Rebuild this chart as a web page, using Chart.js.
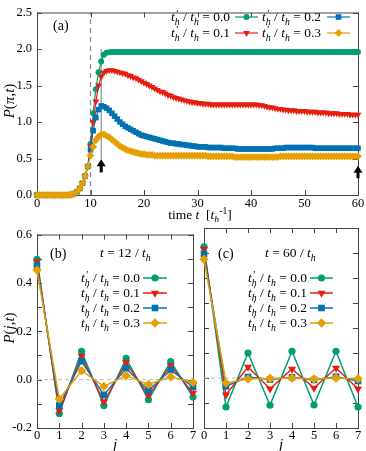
<!DOCTYPE html>
<html>
<head>
<meta charset="utf-8">
<script src="https://cdn.jsdelivr.net/npm/chart.js@4.4.1/dist/chart.umd.min.js"></script>
<style>
  body { margin: 0; background: #fff; }
  #wrap { position: relative; width: 366px; height: 451px; overflow: hidden; }
  canvas { position: absolute; }
</style>
</head>
<body>
<div id="wrap">
  <canvas id="panelA" width="366" height="222" style="left:0;top:0"></canvas>
  <canvas id="panelB" width="197" height="229" style="left:0;top:222px"></canvas>
  <canvas id="panelC" width="169" height="229" style="left:197px;top:222px"></canvas>
</div>
<script>
// panel (a): P(pi, t) against time, one series per t'_h / t_h
const timeT = [0,0.5,1,1.5,2,2.5,3,3.5,4,4.5,
  5,5.5,6,6.5,7,7.5,8,8.5,9,9.5,
  10,10.5,11,11.5,12,12.5,13,13.5,14,14.5,
  15,15.5,16,16.5,17,17.5,18,18.5,19,19.5,
  20,20.5,21,21.5,22,22.5,23,23.5,24,24.5,
  25,25.5,26,26.5,27,27.5,28,28.5,29,29.5,
  30,30.5,31,31.5,32,32.5,33,33.5,34,34.5,
  35,35.5,36,36.5,37,37.5,38,38.5,39,39.5,
  40,40.5,41,41.5,42,42.5,43,43.5,44,44.5,
  45,45.5,46,46.5,47,47.5,48,48.5,49,49.5,
  50,50.5,51,51.5,52,52.5,53,53.5,54,54.5,
  55,55.5,56,56.5,57,57.5,58,58.5,59,59.5,
  60];

const piGreen = [0,0,0,0,0,0,0,0,0,0,
  0,0,0.002,0.008,0.02,0.045,0.09,0.16,0.26,0.39,
  0.7,1.12,1.45,1.68,1.83,1.92,1.95,1.955,1.96,1.96,
  1.96,1.96,1.96,1.96,1.96,1.96,1.96,1.96,1.96,1.96,
  1.96,1.96,1.96,1.96,1.96,1.96,1.96,1.96,1.96,1.96,
  1.96,1.96,1.96,1.96,1.96,1.96,1.96,1.96,1.96,1.96,
  1.96,1.96,1.96,1.96,1.96,1.96,1.96,1.96,1.96,1.96,
  1.96,1.96,1.96,1.96,1.96,1.96,1.96,1.96,1.96,1.96,
  1.96,1.96,1.96,1.96,1.96,1.96,1.96,1.96,1.96,1.96,
  1.96,1.96,1.96,1.96,1.96,1.96,1.96,1.96,1.96,1.96,
  1.96,1.96,1.96,1.96,1.96,1.96,1.96,1.96,1.96,1.96,
  1.96,1.96,1.96,1.96,1.96,1.96,1.96,1.96,1.96,1.96,
  1.96];

const piRed = [0,0,0,0,0,0,0,0,0,0,
  0,0,0.002,0.008,0.02,0.045,0.09,0.16,0.26,0.39,
  0.66,1.0,1.28,1.5,1.62,1.68,1.70,1.71,1.71,1.70,
  1.69,1.68,1.67,1.66,1.64,1.63,1.61,1.60,1.58,1.56,
  1.54,1.52,1.50,1.48,1.46,1.44,1.42,1.41,1.39,1.37,
  1.36,1.34,1.33,1.32,1.31,1.30,1.29,1.28,1.27,1.27,
  1.26,1.26,1.25,1.25,1.25,1.24,1.24,1.24,1.24,1.24,
  1.24,1.24,1.24,1.24,1.24,1.24,1.24,1.24,1.24,1.24,
  1.24,1.24,1.24,1.23,1.23,1.22,1.21,1.20,1.20,1.19,
  1.18,1.18,1.17,1.17,1.16,1.16,1.16,1.15,1.15,1.15,
  1.15,1.14,1.14,1.14,1.14,1.13,1.13,1.13,1.13,1.12,
  1.12,1.12,1.12,1.11,1.11,1.11,1.11,1.10,1.10,1.10,
  1.10];

const piBlue = [0,0,0,0,0,0,0,0,0,0,
  0,0,0.002,0.008,0.02,0.045,0.09,0.16,0.26,0.39,
  0.62,0.88,1.06,1.17,1.22,1.21,1.19,1.16,1.12,1.08,
  1.04,1.00,0.97,0.94,0.92,0.90,0.88,0.86,0.84,0.82,
  0.81,0.80,0.79,0.78,0.77,0.76,0.75,0.74,0.73,0.72,
  0.71,0.71,0.70,0.70,0.69,0.69,0.68,0.68,0.67,0.67,
  0.66,0.66,0.66,0.66,0.65,0.65,0.65,0.65,0.65,0.65,
  0.64,0.64,0.64,0.64,0.64,0.63,0.63,0.63,0.63,0.63,
  0.63,0.63,0.63,0.63,0.63,0.63,0.63,0.63,0.63,0.64,
  0.64,0.64,0.64,0.65,0.65,0.65,0.65,0.65,0.65,0.65,
  0.65,0.65,0.65,0.65,0.64,0.64,0.64,0.64,0.64,0.64,
  0.64,0.64,0.64,0.64,0.64,0.64,0.64,0.64,0.64,0.64,
  0.64];

const piOrange = [0,0,0,0,0,0,0,0,0,0,
  0,0,0.002,0.008,0.02,0.045,0.09,0.16,0.26,0.39,
  0.54,0.66,0.75,0.80,0.83,0.83,0.81,0.79,0.76,0.73,
  0.70,0.67,0.65,0.63,0.61,0.60,0.59,0.58,0.57,0.56,
  0.56,0.55,0.55,0.55,0.54,0.54,0.54,0.54,0.54,0.54,
  0.54,0.54,0.54,0.54,0.54,0.54,0.54,0.54,0.54,0.54,
  0.54,0.54,0.54,0.54,0.53,0.53,0.53,0.53,0.53,0.53,
  0.53,0.53,0.53,0.53,0.52,0.52,0.52,0.52,0.52,0.52,
  0.52,0.52,0.52,0.52,0.52,0.52,0.52,0.52,0.52,0.52,
  0.52,0.53,0.53,0.53,0.53,0.53,0.53,0.53,0.53,0.53,
  0.53,0.53,0.53,0.53,0.53,0.53,0.53,0.53,0.53,0.53,
  0.53,0.53,0.53,0.53,0.53,0.53,0.53,0.53,0.53,0.53,
  0.53];

// panels (b) and (c): P(j, t) against site j
const sites = [0, 1, 2, 3, 4, 5, 6, 7];
const t12Green = [0.497, -0.14, 0.117, -0.107, 0.088, -0.083, 0.075, -0.072];
const t12Red = [0.488, -0.128, 0.097, -0.092, 0.07, -0.065, 0.058, -0.056];
const t12Blue = [0.472, -0.107, 0.076, -0.063, 0.047, -0.045, 0.04, -0.03];
const t12Orange = [0.453, -0.08, 0.037, -0.028, 0.017, -0.02, 0.012, -0.012];
const t60Green = [0.525, -0.116, 0.1, -0.109, 0.107, -0.108, 0.107, -0.116];
const t60Red = [0.515, -0.067, 0.044, -0.043, 0.036, -0.04, 0.04, -0.043];
const t60Blue = [0.497, -0.033, 0.004, -0.006, 0.003, -0.008, 0.005, -0.012];
const t60Orange = [0.475, -0.02, -0.004, -0.002, 0.0, -0.004, 0.0, -0.003];

const ratios = ['0.0', '0.1', '0.2', '0.3'];
const colors = ['#009e73', '#e51e10', '#0072b2', '#e69f00'];
const styles = ['circle', 'triangle', 'rect', 'rectRot'];

// marks in panel (a): dashed line at t = 10, thin line at t = 12, arrows
const dashT = 10;
const guideT = 12, guideFrom = 0.49, guideTo = 2.0;
const arrowT = [12, 60];
const arrowFrom = [0.31, 0.23];
const arrowTo = [0.49, 0.40];

Chart.defaults.font.family = '"Liberation Serif", "Times New Roman", serif';
Chart.defaults.color = '#000';

const FONT = '"Liberation Serif", serif';

function pointSize(k, small) {
  const r = small ? 3.0 : 3.6;
  return k === 0 ? r : r * 1.3;
}

function makeSets(xs, series, small) {
  return series.map((ys, k) => ({
    data: xs.map((x, i) => ({ x: x, y: ys[i] })),
    borderColor: colors[k],
    backgroundColor: colors[k],
    borderWidth: small ? 1.2 : 1.5,
    pointStyle: styles[k],
    pointRotation: k === 1 ? 180 : 0,
    pointRadius: pointSize(k, small),
    pointBorderWidth: 0,
    pointHoverRadius: 0,
    clip: false,
    order: 3 - k
  }));
}

function axis(min, max, step, size, fmt, show, pad) {
  return {
    type: 'linear', min: min, max: max,
    ticks: { stepSize: step, display: show, font: { size: 12.5 }, padding: pad,
      callback: fmt, autoSkip: false, maxRotation: 0 },
    grid: { display: false, drawTicks: false },
    border: { display: false },
    afterFit: s => { if (s.isHorizontal()) s.height = size; else s.width = size; }
  };
}

// text with italic, subscript and superscript pieces
function richText(ctx, parts, x, y, size, align) {
  const setFont = p => {
    const sz = (p.sub || p.sup) ? size * 0.72 : size;
    ctx.font = (p.it ? 'italic ' : '') + sz + 'px ' + FONT;
  };
  const widths = parts.map(p => { setFont(p); return ctx.measureText(p.s).width; });
  const total = widths.reduce((a, b) => a + b, 0);
  let cx = align === 'right' ? x - total : align === 'center' ? x - total / 2 : x;
  ctx.textAlign = 'left';
  ctx.textBaseline = 'alphabetic';
  ctx.fillStyle = '#000';
  const base = y + size * 0.33;
  parts.forEach((p, i) => {
    setFont(p);
    const dy = p.sub ? size * 0.28 : p.sup ? -size * 0.4 : 0;
    ctx.fillText(p.s, cx, base + dy);
    if (p.prime) {
      ctx.font = 'italic ' + (size * 0.8) + 'px ' + FONT;
      ctx.fillText("'", cx + 0.8, base - size * 0.3);
    }
    cx += widths[i];
  });
}

function ratioParts(v) {
  return [{ s: 't', it: true }, { s: 'h', it: true, sub: true, prime: true },
    { s: ' / ' }, { s: 't', it: true }, { s: 'h', it: true, sub: true }, { s: ' = ' + v }];
}

function legendEntry(ctx, k, textRight, lineL, lineR, y, size, small) {
  richText(ctx, ratioParts(ratios[k]), textRight, y, size, 'right');
  ctx.save();
  ctx.strokeStyle = colors[k];
  ctx.lineWidth = small ? 1.2 : 1.5;
  ctx.beginPath();
  ctx.moveTo(lineL, y);
  ctx.lineTo(lineR, y);
  ctx.stroke();
  ctx.fillStyle = colors[k];
  Chart.helpers.drawPoint(ctx, { pointStyle: styles[k], rotation: k === 1 ? 180 : 0,
    radius: pointSize(k, small), borderWidth: 0 }, (lineL + lineR) / 2, y);
  ctx.restore();
}

// box round the plot with inward ticks on all four sides
const framePlugin = {
  id: 'frame',
  beforeDatasetsDraw(chart) {
    const { ctx, chartArea: a, scales } = chart;
    ctx.save();
    ctx.strokeStyle = '#444';
    ctx.lineWidth = 1;
    ctx.strokeRect(a.left + 0.5, a.top + 0.5, a.right - a.left, a.bottom - a.top);
    ctx.beginPath();
    scales.x.ticks.forEach(t => {
      const px = Math.round(scales.x.getPixelForValue(t.value)) + 0.5;
      ctx.moveTo(px, a.bottom); ctx.lineTo(px, a.bottom - 5);
      ctx.moveTo(px, a.top); ctx.lineTo(px, a.top + 5);
    });
    scales.y.ticks.forEach(t => {
      const py = Math.round(scales.y.getPixelForValue(t.value)) + 0.5;
      ctx.moveTo(a.left, py); ctx.lineTo(a.left + 5, py);
      ctx.moveTo(a.right, py); ctx.lineTo(a.right - 5, py);
    });
    ctx.stroke();
    ctx.restore();
  }
};

function baseOptions(xAxis, yAxis, padding) {
  return {
    responsive: false,
    animation: false,
    devicePixelRatio: 1,
    layout: { padding: padding, autoPadding: false },
    plugins: { legend: { display: false }, tooltip: { enabled: false } },
    events: [],
    scales: { x: xAxis, y: yAxis }
  };
}

// ---------- panel (a) ----------
const panelAExtras = {
  id: 'panelAExtras',
  beforeDatasetsDraw(chart) {
    const { ctx, chartArea: a, scales: { x, y } } = chart;
    ctx.save();
    ctx.strokeStyle = '#888';
    ctx.lineWidth = 1.2;
    ctx.setLineDash([5, 4]);
    const dx = x.getPixelForValue(dashT);
    ctx.beginPath();
    ctx.moveTo(dx, y.getPixelForValue(0));
    ctx.lineTo(dx, y.getPixelForValue(2.5));
    ctx.stroke();
    ctx.setLineDash([]);
    ctx.strokeStyle = '#777';
    ctx.lineWidth = 1;
    const gx = x.getPixelForValue(guideT);
    ctx.beginPath();
    ctx.moveTo(gx, y.getPixelForValue(guideFrom));
    ctx.lineTo(gx, y.getPixelForValue(guideTo));
    ctx.stroke();
    ctx.restore();
  },
  afterDraw(chart) {
    const { ctx, scales: { x, y } } = chart;
    ctx.save();
    ctx.fillStyle = '#000';
    arrowT.forEach((t, i) => {
      const px = x.getPixelForValue(t);
      const y0 = y.getPixelForValue(arrowFrom[i]);
      const y1 = y.getPixelForValue(arrowTo[i]);
      ctx.fillRect(px - 1.5, y1 + 6, 3, y0 - y1 - 6);
      ctx.beginPath();
      ctx.moveTo(px, y1);
      ctx.lineTo(px - 4.5, y1 + 7);
      ctx.lineTo(px + 4.5, y1 + 7);
      ctx.closePath();
      ctx.fill();
    });
    ctx.restore();

    richText(ctx, [{ s: '(a)' }], 53, 25, 14, 'left');
    legendEntry(ctx, 0, 230, 235, 258, 17, 13.5, true);
    legendEntry(ctx, 1, 230, 235, 258, 33, 13.5, true);
    legendEntry(ctx, 2, 321, 327, 350, 17, 13.5, true);
    legendEntry(ctx, 3, 321, 327, 350, 33, 13.5, true);

    richText(ctx, [{ s: 'time ' }, { s: 't', it: true }, { s: '  [' }, { s: 't', it: true },
      { s: 'h', it: true, sub: true }, { s: '-1', sup: true }, { s: ']' }], 200, 215, 13.5, 'center');

    ctx.save();
    ctx.translate(9, 101);
    ctx.rotate(-Math.PI / 2);
    richText(ctx, [{ s: 'P', it: true }, { s: '(' }, { s: '\u03c0', it: true }, { s: ',' },
      { s: 't', it: true }, { s: ')' }], 0, 0, 15, 'center');
    ctx.restore();
  }
};

new Chart(document.getElementById('panelA'), {
  type: 'line',
  data: { datasets: makeSets(timeT, [piGreen, piRed, piBlue, piOrange], true) },
  options: baseOptions(
    axis(0, 60, 10, 27, v => v, true, 1),
    axis(0, 2.5, 0.5, 37, v => v.toFixed(1), true, 5),
    { left: 0, right: 8, top: 7, bottom: 0 }),
  plugins: [framePlugin, panelAExtras]
});

// ---------- panels (b) and (c) ----------
function siteExtras(id, label, labelX, timeLabel, timeX, textRight, lineL, lineR, withYTitle) {
  return {
    id: id,
    beforeDatasetsDraw(chart) {
      const { ctx, chartArea: a, scales: { y } } = chart;
      const py = y.getPixelForValue(0);
      ctx.save();
      ctx.strokeStyle = '#bbb';
      ctx.lineWidth = 1;
      ctx.setLineDash([4, 3]);
      ctx.beginPath();
      ctx.moveTo(a.left, py);
      ctx.lineTo(a.right, py);
      ctx.stroke();
      ctx.restore();
    },
    afterDraw(chart) {
      const { ctx, chartArea: a } = chart;
      richText(ctx, [{ s: label }], labelX, 31, 14, 'left');
      richText(ctx, [{ s: 't', it: true }, { s: ' = ' + timeLabel + ' / ' }, { s: 't', it: true },
        { s: 'h', it: true, sub: true }], timeX, 31, 13.5, 'left');
      [56, 71, 86, 101].forEach((ry, k) => legendEntry(ctx, k, textRight, lineL, lineR, ry, 13.5, false));
      richText(ctx, [{ s: 'j', it: true }], (a.left + a.right) / 2, 222, 15, 'center');
      if (withYTitle) {
        ctx.save();
        ctx.translate(9, 106);
        ctx.rotate(-Math.PI / 2);
        richText(ctx, [{ s: 'P', it: true }, { s: '(' }, { s: 'j', it: true }, { s: ',' },
          { s: 't', it: true }, { s: ')' }], 0, 0, 15, 'center');
        ctx.restore();
      }
    }
  };
}

const fmtSite = v => (Math.round(v * 10) % 2 === 0 ? v.toFixed(1) : '');

new Chart(document.getElementById('panelB'), {
  type: 'line',
  data: { datasets: makeSets(sites, [t12Green, t12Red, t12Blue, t12Orange], false) },
  options: baseOptions(
    axis(0, 7, 1, 23, v => v, true, 0),
    axis(-0.2, 0.6, 0.1, 37, fmtSite, true, 5),
    { left: 0, right: 4, top: 6, bottom: 0 }),
  plugins: [framePlugin, siteExtras('bExtras', '(b)', 50, '12', 100, 140, 143, 167, true)]
});

new Chart(document.getElementById('panelC'), {
  type: 'line',
  data: { datasets: makeSets(sites, [t60Green, t60Red, t60Blue, t60Orange], false) },
  options: baseOptions(
    axis(0, 7, 1, 23, v => v, true, 0),
    axis(-0.2, 0.6, 0.1, 7, fmtSite, false, 5),
    { left: 0, right: 8, top: 6, bottom: 0 }),
  plugins: [framePlugin, siteExtras('cExtras', '(c)', 21, '60', 68, 110, 113, 136, false)]
});
</script>
</body>
</html>
